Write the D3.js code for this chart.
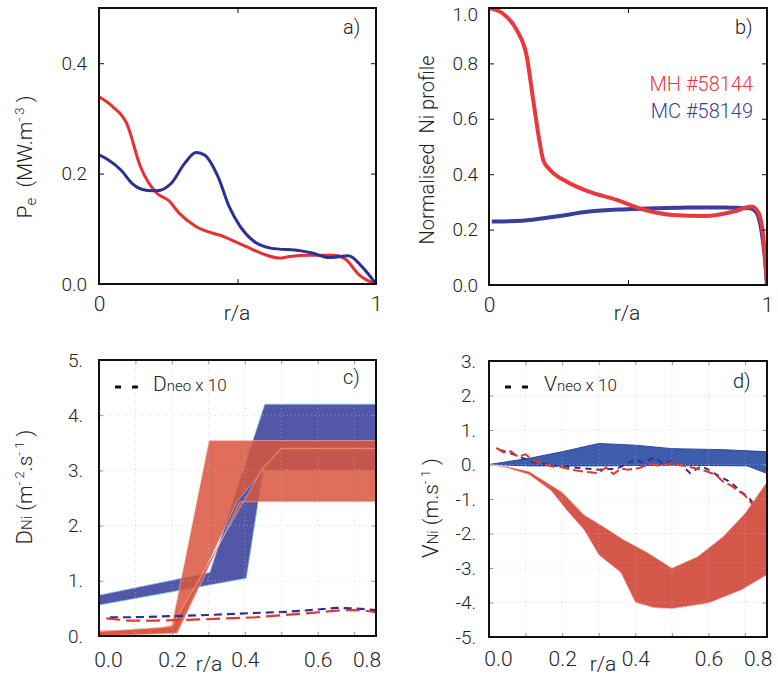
<!DOCTYPE html>
<html>
<head>
<meta charset="utf-8">
<script src="https://cdn.jsdelivr.net/npm/d3@7"></script>
<style>
  body { margin: 0; background: #fff; }
  svg text { font-family: Roboto, "Liberation Sans", sans-serif; font-weight: 300; fill: #222; white-space: pre; }
</style>
</head>
<body>
<svg id="fig" width="778" height="677"></svg>
<script>
// ---- panel a) : electron heating power density Pe
const aRedR  = [0, 0.05, 0.1, 0.15, 0.21, 0.25, 0.29, 0.35, 0.45, 0.53, 0.6, 0.65, 0.69, 0.76, 0.85, 0.89, 0.94, 1.0];
const aRedV  = [0.339, 0.321, 0.291, 0.212, 0.164, 0.152, 0.128, 0.104, 0.086, 0.068, 0.053, 0.047, 0.05, 0.052, 0.052, 0.045, 0.016, 0.0];
const aBlueR = [0, 0.03, 0.08, 0.12, 0.17, 0.21, 0.26, 0.31, 0.35, 0.38, 0.43, 0.47, 0.51, 0.56, 0.62, 0.73, 0.77, 0.83, 0.9, 0.95, 1.0];
const aBlueV = [0.234, 0.226, 0.206, 0.182, 0.170, 0.169, 0.182, 0.219, 0.238, 0.234, 0.194, 0.140, 0.104, 0.077, 0.065, 0.060, 0.056, 0.048, 0.051, 0.031, 0.0];
const aYTicks = [0, 0.2, 0.4];

// ---- panel b) : normalised Ni profile
const bRedR  = [0, 0.05, 0.1, 0.136, 0.159, 0.183, 0.195, 0.22, 0.28, 0.36, 0.46, 0.54, 0.66, 0.78, 0.88, 0.945, 0.97, 0.987, 1.0];
const bRedV  = [1.0, 0.98, 0.92, 0.824, 0.668, 0.511, 0.451, 0.415, 0.373, 0.337, 0.307, 0.277, 0.253, 0.249, 0.265, 0.283, 0.259, 0.17, 0.0];
const bBlueR = [0.01, 0.12, 0.24, 0.36, 0.48, 0.6, 0.72, 0.84, 0.94, 0.963, 0.981, 0.993, 1.0];
const bBlueV = [0.229, 0.232, 0.247, 0.265, 0.273, 0.277, 0.28, 0.28, 0.277, 0.26, 0.19, 0.09, 0.0];
const bYTicks = [0, 0.2, 0.4, 0.6, 0.8, 1.0];
const legendNames = ["MH #58144", "MC #58149"];

// ---- panel c) : D_Ni bands (upper / lower edges) and D_neo x 10
const cBlueUpR = [0, 0.304, 0.455, 0.76];
const cBlueUpV = [0.74, 1.15, 4.2, 4.2];
const cBlueLoR = [0, 0.404, 0.45, 0.76];
const cBlueLoV = [0.56, 1.045, 3.0, 3.0];
const cRedAUpR = [0, 0.15, 0.2, 0.302, 0.76];
const cRedAUpV = [0.1, 0.12, 0.2, 3.54, 3.54];
const cRedALoR = [0, 0.21, 0.38, 0.45, 0.5, 0.76];
const cRedALoV = [0.0, 0.05, 2.45, 3.0, 3.37, 3.37];
const cRedBUpR = [0, 0.2, 0.45, 0.5, 0.76];
const cRedBUpV = [0.08, 0.17, 3.05, 3.4, 3.4];
const cRedBLoR = [0, 0.215, 0.386, 0.76];
const cRedBLoV = [0.0, 0.05, 2.43, 2.43];
const cBlueDashR = [0.03, 0.1, 0.2, 0.3, 0.4, 0.52, 0.6, 0.65, 0.7, 0.76];
const cBlueDashV = [0.34, 0.34, 0.36, 0.38, 0.41, 0.44, 0.48, 0.51, 0.5, 0.47];
const cRedDashR  = [0.02, 0.08, 0.16, 0.28, 0.43, 0.57, 0.67, 0.72, 0.76];
const cRedDashV  = [0.32, 0.28, 0.28, 0.30, 0.34, 0.41, 0.47, 0.47, 0.43];
const cYTicks = [0, 1, 2, 3, 4, 5];

// ---- panel d) : V_Ni bands and V_neo x 10
const dBlueUpR = [0, 0.11, 0.2, 0.3, 0.4, 0.5, 0.64, 0.76];
const dBlueUpV = [0.0, 0.18, 0.37, 0.61, 0.56, 0.46, 0.43, 0.37];
const dBlueLoR = [0, 0.11, 0.3, 0.5, 0.706, 0.76];
const dBlueLoV = [0.0, -0.04, -0.04, -0.02, -0.04, -0.26];
const dRedUpR = [0, 0.05, 0.11, 0.2, 0.26, 0.31, 0.37, 0.43, 0.5, 0.57, 0.64, 0.7, 0.76];
const dRedUpV = [0, -0.06, -0.2, -0.8, -1.46, -1.78, -2.19, -2.53, -3.0, -2.67, -2.09, -1.41, -0.5];
const dRedLoR = [0, 0.05, 0.11, 0.17, 0.21, 0.26, 0.3, 0.36, 0.4, 0.45, 0.5, 0.6, 0.69, 0.76];
const dRedLoV = [0, -0.1, -0.3, -0.76, -1.3, -1.9, -2.62, -3.13, -4.0, -4.15, -4.18, -4.02, -3.64, -3.2];
const dRedDashR = [0.02, 0.04, 0.06, 0.08, 0.10, 0.12, 0.14, 0.17, 0.20, 0.23, 0.27, 0.30, 0.32, 0.34, 0.36, 0.38, 0.41, 0.44, 0.47, 0.50, 0.53, 0.56, 0.59, 0.62, 0.64, 0.66, 0.68, 0.70, 0.72];
const dRedDashV = [0.48, 0.35, 0.38, 0.22, 0.30, 0.12, 0.05, -0.05, -0.08, -0.16, -0.22, -0.25, -0.08, -0.28, -0.12, -0.15, -0.10, 0.02, -0.05, 0.05, -0.03, -0.1, -0.18, -0.3, -0.5, -0.6, -0.75, -0.9, -1.15];
const dBlueDashR = [0.03, 0.06, 0.09, 0.11, 0.13, 0.16, 0.2, 0.25, 0.3, 0.35, 0.4, 0.42, 0.45, 0.48, 0.5, 0.53, 0.55, 0.58, 0.6, 0.63, 0.65, 0.67, 0.69, 0.71, 0.72];
const dBlueDashV = [0.42, 0.32, 0.2, 0.1, 0.05, 0.0, -0.05, -0.1, -0.15, -0.12, 0.15, 0.05, 0.2, 0.0, 0.1, -0.05, -0.25, -0.05, -0.15, -0.35, -0.45, -0.6, -0.8, -0.95, -1.1];
const dYTicks = [-5, -4, -3, -2, -1, 0, 1, 2, 3];

const rTicks = [0, 0.2, 0.4, 0.6, 0.8];
const RED = "#e8312f", BLUE = "#2c3091";

const svg = d3.select("#fig");
const pts = (rs, vs) => rs.map((r, i) => [r, vs[i]]);

function panel(box, xDom, yDom, id) {
  const x = d3.scaleLinear().domain(xDom).range([box.x0, box.x1]);
  const y = d3.scaleLinear().domain(yDom).range([box.y1, box.y0]);
  svg.append("clipPath").attr("id", id).append("rect")
    .attr("x", box.x0).attr("y", box.y0)
    .attr("width", box.x1 - box.x0).attr("height", box.y1 - box.y0);
  const g = svg.append("g");
  const plot = g.append("g").attr("clip-path", "url(#" + id + ")");
  const line = d3.line().x(d => x(d[0])).y(d => y(d[1]));
  return { x, y, g, plot, box, line };
}

function frame(p, w) {
  p.g.append("rect")
    .attr("x", p.box.x0).attr("y", p.box.y0)
    .attr("width", p.box.x1 - p.box.x0).attr("height", p.box.y1 - p.box.y0)
    .attr("fill", "none").attr("stroke", "#111").attr("stroke-width", w);
}

function innerTicks(p, xs, ys, len, col) {
  const b = p.box;
  p.g.append("g").attr("transform", `translate(${b.x0},0)`)
    .call(d3.axisLeft(p.y).tickValues(ys).tickSize(-len).tickFormat(""))
    .call(s => s.select(".domain").remove()).selectAll("line").attr("stroke", col);
  p.g.append("g").attr("transform", `translate(${b.x1},0)`)
    .call(d3.axisRight(p.y).tickValues(ys).tickSize(-len).tickFormat(""))
    .call(s => s.select(".domain").remove()).selectAll("line").attr("stroke", col);
  p.g.append("g").attr("transform", `translate(0,${b.y0})`)
    .call(d3.axisTop(p.x).tickValues(xs).tickSize(-len).tickFormat(""))
    .call(s => s.select(".domain").remove()).selectAll("line").attr("stroke", col);
  p.g.append("g").attr("transform", `translate(0,${b.y1})`)
    .call(d3.axisBottom(p.x).tickValues(xs).tickSize(-len).tickFormat(""))
    .call(s => s.select(".domain").remove()).selectAll("line").attr("stroke", col);
}

function yLabels(p, vals, fmt, pad, size, nudge) {
  p.g.append("g").attr("transform", `translate(${p.box.x0},0)`)
    .call(d3.axisLeft(p.y).tickValues(vals).tickSize(0).tickPadding(pad).tickFormat(fmt))
    .call(s => s.select(".domain").remove())
    .selectAll("text").attr("font-size", size).attr("fill", "#222")
    .attr("y", d => nudge ? nudge(d) : 0);
}

function xLabels(p, vals, fmt, yOff, size, shift) {
  p.g.append("g").attr("transform", `translate(0,${p.box.y1})`)
    .call(d3.axisBottom(p.x).tickValues(vals).tickSize(0).tickPadding(yOff).tickFormat(fmt))
    .call(s => s.select(".domain").remove())
    .selectAll("text").attr("font-size", size).attr("fill", "#222")
    .attr("x", d => shift ? shift(d) : 0);
}

function rich(g, x, y, parts, rotate, anchor) {
  const t = g.append("text").attr("text-anchor", anchor || "middle")
    .attr("transform", `translate(${x},${y})` + (rotate ? " rotate(-90)" : ""));
  parts.forEach(q => t.append("tspan").attr("font-size", q[1]).attr("dy", q[2] || 0).text(q[0]));
  return t;
}

// ================= a)
const pa = panel({ x0: 99, x1: 376, y0: 8, y1: 284 }, [0, 1], [0, 0.5], "ca");
pa.plot.append("path").datum(pts(aRedR, aRedV)).attr("d", pa.line.curve(d3.curveMonotoneX))
  .attr("fill", "none").attr("stroke", RED).attr("stroke-width", 3);
pa.plot.append("path").datum(pts(aBlueR, aBlueV)).attr("d", pa.line.curve(d3.curveMonotoneX))
  .attr("fill", "none").attr("stroke", BLUE).attr("stroke-width", 3);
innerTicks(pa, [0.5], [0.2, 0.4], 5, "#111");
frame(pa, 2);
yLabels(pa, aYTicks, d3.format(".1f"), 12, 19);
xLabels(pa, [0, 1], d3.format("d"), 12, 21);
pa.g.append("text").attr("x", 237).attr("y", 320).attr("text-anchor", "middle").attr("font-size", 21).text("r/a");
pa.g.append("text").attr("x", 343).attr("y", 34).attr("font-size", 20).text("a)");
rich(pa.g, 32, 157, [["P", 21], ["e", 15, 4], ["  (MW.m", 21, -4], ["- 3", 13, -8], [" )", 21, 8]], true);

// ================= b)
const pb = panel({ x0: 489, x1: 767, y0: 8, y1: 285 }, [0, 1], [0, 1.0], "cb");
pb.plot.append("path").datum(pts(bBlueR, bBlueV)).attr("d", pb.line.curve(d3.curveMonotoneX))
  .attr("fill", "none").attr("stroke", "#3a3d99").attr("stroke-width", 4);
pb.plot.append("path").datum(pts(bRedR, bRedV)).attr("d", pb.line.curve(d3.curveMonotoneX))
  .attr("fill", "none").attr("stroke", "#e8393c").attr("stroke-width", 4);
innerTicks(pb, [0.5], [0.2, 0.4, 0.6, 0.8], 5, "#111");
frame(pb, 2);
yLabels(pb, bYTicks, d3.format(".1f"), 11, 19, d => d === 1 ? 6 : 0);
xLabels(pb, [0, 1], d3.format("d"), 12, 21);
pb.g.append("text").attr("x", 627).attr("y", 320).attr("text-anchor", "middle").attr("font-size", 21).text("r/a");
pb.g.append("text").attr("x", 735).attr("y", 34).attr("font-size", 20).text("b)");
pb.g.selectAll(".leg").data(legendNames).enter().append("text")
  .attr("x", 753).attr("y", (d, i) => 91 + i * 27).attr("text-anchor", "end")
  .attr("font-size", 20).style("fill", (d, i) => i ? "#3a3d99" : "#e8393c").text(d => d);
rich(pb.g, 434, 150, [["Normalised  Ni profile", 20]], true);

// ================= shared drawing for c) and d)
function grid(p, xs, ys) {
  const b = p.box;
  p.plot.append("g").selectAll("line.vx").data(xs).enter().append("line")
    .attr("x1", d => p.x(d)).attr("x2", d => p.x(d)).attr("y1", b.y0).attr("y2", b.y1)
    .attr("stroke", "rgba(190,190,215,0.6)").attr("stroke-dasharray", "1,3");
  p.plot.append("g").selectAll("line.hy").data(ys).enter().append("line")
    .attr("x1", b.x0).attr("x2", b.x1).attr("y1", d => p.y(d)).attr("y2", d => p.y(d))
    .attr("stroke", "rgba(190,190,215,0.6)").attr("stroke-dasharray", "1,3");
}
function band(p, upR, upV, loR, loV, fill, op, edge) {
  const poly = pts(upR, upV).concat(pts(loR, loV).reverse());
  p.plot.append("path").attr("d", d3.line().x(d => p.x(d[0])).y(d => p.y(d[1]))(poly) + "Z")
    .attr("fill", fill).attr("fill-opacity", op)
    .attr("stroke", edge).attr("stroke-width", 0.9).attr("stroke-linejoin", "round");
}
function dashed(p, rs, vs, col, dash, w) {
  p.plot.append("path").datum(pts(rs, vs)).attr("d", d3.line().x(d => p.x(d[0])).y(d => p.y(d[1])))
    .attr("fill", "none").attr("stroke", col).attr("stroke-width", w).attr("stroke-dasharray", dash);
}
const xShift = d => d === 0 ? 9 : (d === 0.8 ? -24 : 0);
const gridX = [0.1, 0.2, 0.3, 0.4, 0.5, 0.6, 0.7];

// ================= c)
const pc = panel({ x0: 99, x1: 376, y0: 360, y1: 636 }, [0, 0.76], [0, 5], "cc");
band(pc, cBlueUpR, cBlueUpV, cBlueLoR, cBlueLoV, "#5257a8", 1, "rgba(120,200,235,0.8)");
band(pc, cRedAUpR, cRedAUpV, cRedALoR, cRedALoV, "#d8563f", 0.86, "rgba(255,215,200,0.55)");
band(pc, cRedBUpR, cRedBUpV, cRedBLoR, cRedBLoV, "#d8563f", 0.86, "rgba(255,215,200,0.55)");
dashed(pc, cBlueDashR, cBlueDashV, BLUE, "8,5", 2.2);
dashed(pc, cRedDashR, cRedDashV, "#e03a2e", "14,6", 2.2);
grid(pc, gridX, [1, 2, 3, 4]);
innerTicks(pc, gridX, [1, 2, 3, 4], 4, "#8890b8");
frame(pc, 2);
yLabels(pc, cYTicks, d => d + ".", 16, 19);
xLabels(pc, rTicks, d3.format(".1f"), 16, 21, xShift);
pc.g.append("text").attr("x", 209).attr("y", 671).attr("text-anchor", "middle").attr("font-size", 21).text("r/a");
pc.g.append("text").attr("x", 343).attr("y", 384).attr("font-size", 20).text("c)");
pc.g.append("line").attr("x1", 115).attr("x2", 138).attr("y1", 387).attr("y2", 387)
  .attr("stroke", "#111").attr("stroke-width", 3).attr("stroke-dasharray", "6,11");
rich(pc.g, 153, 391, [["D", 21], ["neo", 15], [" x 10", 17]], false, "start");
rich(pc.g, 32, 487, [["D", 22], ["Ni", 15], [" (m", 21], ["- 2", 13, -8], [".s", 21, 8], ["- 1", 13, -8], [" )", 21, 8]], true);

// ================= d)
const pd = panel({ x0: 489, x1: 767, y0: 361, y1: 637 }, [0, 0.76], [-5, 3], "cd");
band(pd, dBlueUpR, dBlueUpV, dBlueLoR, dBlueLoV, "#3b5dac", 1, "#2a3a90");
band(pd, dRedUpR, dRedUpV, dRedLoR, dRedLoV, "#d4574a", 1, "rgba(255,205,210,0.8)");
dashed(pd, dBlueDashR, dBlueDashV, BLUE, "6,5", 2);
dashed(pd, dRedDashR, dRedDashV, "#e03a2e", "10,4", 2);
grid(pd, gridX, [-4, -3, -2, -1, 0, 1, 2]);
innerTicks(pd, gridX, [-4, -3, -2, -1, 0, 1, 2], 4, "#8890b8");
frame(pd, 2);
yLabels(pd, dYTicks, d => d + ".", 13, 19);
xLabels(pd, rTicks, d3.format(".1f"), 14, 21, xShift);
pd.g.append("text").attr("x", 603).attr("y", 671).attr("text-anchor", "middle").attr("font-size", 21).text("r/a");
pd.g.append("text").attr("x", 733).attr("y", 388).attr("font-size", 20).text("d)");
pd.g.append("line").attr("x1", 505).attr("x2", 528).attr("y1", 387).attr("y2", 387)
  .attr("stroke", "#111").attr("stroke-width", 3).attr("stroke-dasharray", "6,11");
rich(pd.g, 544, 391, [["V", 21], ["neo", 15], [" x 10", 17]], false, "start");
rich(pd.g, 438, 508, [["V", 22], ["Ni", 15], [" (m.s", 21], ["- 1", 13, -8], [" )", 21, 8]], true);
</script>
</body>
</html>
